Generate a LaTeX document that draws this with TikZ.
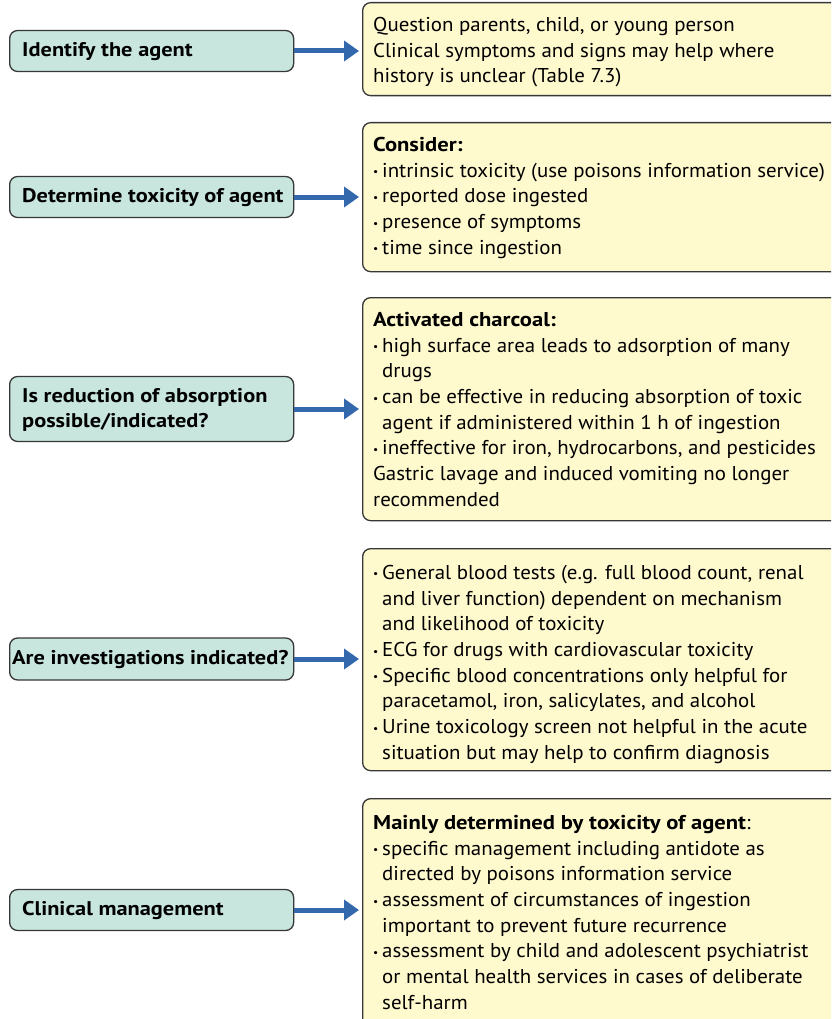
\documentclass[tikz,border=0pt]{standalone}
\usepackage{fontspec}
\setmainfont{PT Sans}[FakeStretch=1.045]
\newfontfamily\bfam{PT Sans}[FakeStretch=1.13]
\usetikzlibrary{arrows.meta}
\definecolor{qfill}{RGB}{200,230,222}
\definecolor{afill}{RGB}{255,249,206}
\definecolor{edgecol}{RGB}{55,55,55}
\definecolor{arrcol}{RGB}{52,104,172}
\newcommand{\bul}{\makebox[9pt][l]{\raisebox{0.15ex}{\scalebox{0.55}{•}}}}
\newcommand{\ind}{\hspace*{9pt}}
\newcommand{\hb}[1]{{\bfam\bfseries #1}}
\begin{document}
\begin{tikzpicture}[x=1pt,y=-1pt,
 qbox/.style={draw=edgecol, line width=1.3pt, fill=qfill, rounded corners=8pt, minimum width=284pt, anchor=west, inner sep=0pt},
 abox/.style={draw=edgecol, line width=1.3pt, fill=afill, rounded corners=8pt, minimum width=480pt, anchor=north west, inner sep=0pt},
 qtext/.style={anchor=west, align=left, font=\fontsize{19.8}{25.7}\selectfont\bfam\bfseries, inner sep=0pt},
 atext/.style={anchor=north west, align=left, font=\fontsize{20}{25.7}\selectfont, inner sep=0pt},
 flow/.style={draw=arrcol, line width=5pt, -{Triangle[length=15pt,width=20pt]}, shorten >=3pt}]
\clip (0,0) rectangle (831,1019);
\useasboundingbox (0,0) rectangle (831,1019);
\fill[white] (0,0) rectangle (831,1019);

% question boxes
\node[qbox, minimum height=41pt] (q1) at (9,51) {};
\node[qbox, minimum height=41pt] (q2) at (9,197) {};
\node[qbox, minimum height=65pt] (q3) at (9,409) {};
\node[qbox, minimum height=42pt] (q4) at (9,659) {};
\node[qbox, minimum height=41pt] (q5) at (9,910) {};

\node[qtext] (t1) at (22,52) {Identify the agent};
\node[qtext] (t2) at (22,198) {Determine toxicity of agent};
\node[qtext] (t3) at (22,410) {Is reduction of absorption\\possible/indicated?};
\node[qtext] (t4) at (12,660) {Are investigations indicated?};
\node[qtext] (t5) at (22,911) {Clinical management};

% answer boxes
\node[abox, minimum height=93pt] (a1) at (362,2) {};
\node[abox, minimum height=149pt] (a2) at (362,122) {};
\node[abox, minimum height=223pt] (a3) at (362,297) {};
\node[abox, minimum height=222pt] (a4) at (362,548) {};
\node[abox, minimum height=230pt] (a5) at (362,798) {};

\node[atext] (b1) at (373,17) {Question parents, child, or young person\\Clinical symptoms and signs may help where\\history is unclear (Table 7.3)};
\node[atext] (b2) at (373,137) {\hb{Consider:}\\\bul intrinsic toxicity (use poisons information service)\\\bul reported dose ingested\\\bul presence of symptoms\\\bul time since ingestion};
\node[atext] (b3) at (373,312) {\hb{Activated charcoal:}\\\bul high surface area leads to adsorption of many\\\ind drugs\\\bul can be effective in reducing absorption of toxic\\\ind agent if administered within 1 h of ingestion\\\bul ineffective for iron, hydrocarbons, and pesticides\\Gastric lavage and induced vomiting no longer\\recommended};
\node[atext] (b4) at (373,565) {\bul General blood tests (e.g. full blood count, renal\\\ind and liver function) dependent on mechanism\\\ind and likelihood of toxicity\\\bul ECG for drugs with cardiovascular toxicity\\\bul Specific blood concentrations only helpful for\\\ind paracetamol, iron, salicylates, and alcohol\\\bul Urine toxicology screen not helpful in the acute\\\ind situation but may help to confirm diagnosis};
\node[atext] (b5) at (373,815) {\hb{Mainly determined by toxicity of agent}:\\\bul specific management including antidote as\\\ind directed by poisons information service\\\bul assessment of circumstances of ingestion\\\ind important to prevent future recurrence\\\bul assessment by child and adolescent psychiatrist\\\ind or mental health services in cases of deliberate\\\ind self-harm};

% arrows
\draw[flow] (q1.east) -- (a1.west |- q1.east);
\draw[flow] (q2.east) -- (a2.west |- q2.east);
\draw[flow] (q3.east) -- (a3.west |- q3.east);
\draw[flow] (q4.east) -- (a4.west |- q4.east);
\draw[flow] (q5.east) -- (a5.west |- q5.east);
\end{tikzpicture}
\end{document}
